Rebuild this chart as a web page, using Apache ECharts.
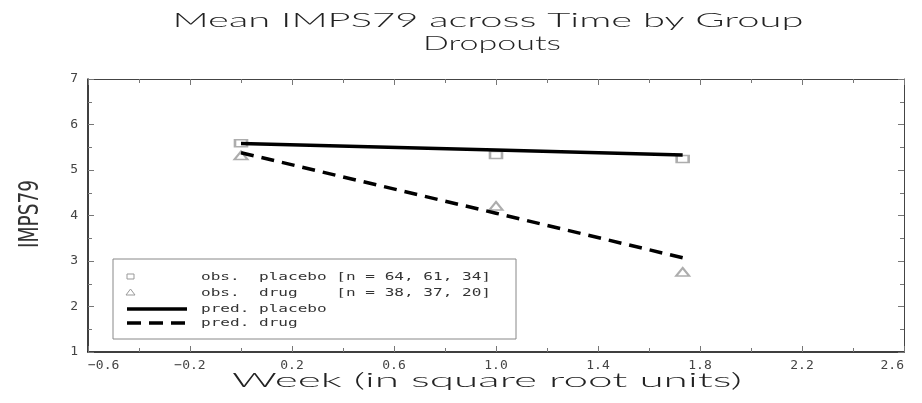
<!DOCTYPE html>
<html>
<head>
<meta charset="utf-8">
<script src="https://cdn.jsdelivr.net/npm/echarts@6/dist/echarts.min.js"></script>
<style>
  html, body { margin: 0; padding: 0; background: #fff; }
  #chart { width: 922px; height: 403px; }
</style>
</head>
<body>
<div id="chart"></div>
<script>
// sqrt(week) positions of the three assessments
const weeks = [0, 1, 1.732];

const obsPlacebo = [5.59, 5.33, 5.24];
const obsDrug = [5.32, 4.21, 2.76];
const predPlacebo = [5.58, 5.44, 5.33];
const predDrug = [5.38, 4.05, 3.07];

const xRange = [-0.6, 2.6];
const xStep = 0.4;
const yRange = [1, 7];
const yStep = 1;

const titleLines = ['Mean IMPS79 across Time by Group', 'Dropouts'];
const xName = 'Week (in square root units)';
const yName = 'IMPS79';
const legendLabels = [
  'obs.  placebo [n = 64, 61, 34]',
  'obs.  drug    [n = 38, 37, 20]',
  'pred. placebo',
  'pred. drug',
];

const MONO = '"DejaVu Sans Mono"';
const WIDE_FONT = '300 19px Lato, "DejaVu Sans", sans-serif';
const NARROW_FONT = '26px "Liberation Sans Narrow", "DejaVu Sans Condensed", "Liberation Sans", sans-serif';
const LEGEND_FONT = '11px ' + MONO;
const TICK_COLOR = '#777';

const pairs = (ys) => weeks.map((x, i) => [x, ys[i]]);
const fmtX = (v) => v.toFixed(1).replace('-', '\u2212');

// the original uses a very wide stroke font: stretch ours to the same run length
const measureCtx = document.createElement('canvas').getContext('2d');
const stretchTo = (text, font, width) => {
  measureCtx.font = font;
  return width / measureCtx.measureText(text).width;
};

const axisBase = {
  axisTick: { inside: true, length: 6, lineStyle: { color: TICK_COLOR } },
  minorTick: { show: true, splitNumber: 2, length: 4, lineStyle: { color: TICK_COLOR } },
  splitLine: { show: false },
};

const scaledText = (text, x, y, font, scaleX, extra) => ({
  type: 'text',
  x,
  y,
  scaleX,
  z: 100,
  style: {
    text,
    font,
    fill: '#222',
    textAlign: 'center',
    textVerticalAlign: 'middle',
    ...(extra || {}),
  },
});

const legendTop = 259;
const rowY = [277, 293, 309, 323];
const legendScale = stretchTo(legendLabels[0], LEGEND_FONT, 290);

const legendGraphic = [
  {
    type: 'rect',
    z: 90,
    shape: { x: 113, y: legendTop, width: 403, height: 80 },
    style: { fill: '#fff', stroke: '#888', lineWidth: 1 },
  },
  {
    type: 'rect',
    z: 100,
    shape: { x: 127, y: rowY[0] - 3, width: 7, height: 5 },
    style: { fill: 'none', stroke: '#999', lineWidth: 1 },
  },
  {
    type: 'polygon',
    z: 100,
    shape: { points: [[126, rowY[1] + 2], [135, rowY[1] + 2], [130.5, rowY[1] - 4]] },
    style: { fill: 'none', stroke: '#999', lineWidth: 1 },
  },
  {
    type: 'line',
    z: 100,
    shape: { x1: 127, y1: rowY[2], x2: 187, y2: rowY[2] },
    style: { stroke: '#000', lineWidth: 3.5 },
  },
  {
    type: 'line',
    z: 100,
    shape: { x1: 127, y1: rowY[3], x2: 186, y2: rowY[3] },
    style: { stroke: '#000', lineWidth: 3.5, lineDash: [14, 8] },
  },
  ...legendLabels.map((label, i) =>
    scaledText(label, 201, rowY[i], LEGEND_FONT, legendScale, {
      textAlign: 'left',
      fill: '#333',
    }),
  ),
];

const chart = echarts.init(document.getElementById('chart'));

chart.setOption({
  animation: false,
  backgroundColor: '#fff',
  grid: { left: 88, right: 18, top: 79, bottom: 51 },
  xAxis: [
    {
      ...axisBase,
      type: 'value',
      min: xRange[0],
      max: xRange[1],
      interval: xStep,
      axisLine: { onZero: false, lineStyle: { color: '#000', width: 1.5 } },
      axisLabel: {
        margin: 7,
        color: '#444',
        fontFamily: MONO,
        fontSize: 13,
        alignMinLabel: 'left',
        alignMaxLabel: 'right',
        formatter: fmtX,
      },
    },
    {
      ...axisBase,
      type: 'value',
      position: 'top',
      min: xRange[0],
      max: xRange[1],
      interval: xStep,
      axisLine: { onZero: false, lineStyle: { color: '#444', width: 1 } },
      axisLabel: { show: false },
    },
  ],
  yAxis: [
    {
      ...axisBase,
      type: 'value',
      min: yRange[0],
      max: yRange[1],
      interval: yStep,
      axisLine: { show: true, onZero: false, lineStyle: { color: '#000', width: 1.5 } },
      axisLabel: { margin: 10, color: '#444', fontFamily: MONO, fontSize: 13 },
    },
    {
      ...axisBase,
      type: 'value',
      position: 'right',
      min: yRange[0],
      max: yRange[1],
      interval: yStep,
      axisLine: { show: true, onZero: false, lineStyle: { color: '#444', width: 1 } },
      axisLabel: { show: false },
    },
  ],
  series: [
    {
      name: 'obs. placebo',
      type: 'scatter',
      data: pairs(obsPlacebo),
      symbol: 'emptyRect',
      symbolSize: [12, 7],
      itemStyle: { color: '#999', borderWidth: 1 },
      z: 1,
    },
    {
      name: 'obs. drug',
      type: 'scatter',
      data: pairs(obsDrug),
      symbol: 'emptyTriangle',
      symbolSize: [13, 8],
      itemStyle: { color: '#999', borderWidth: 1 },
      z: 1,
    },
    {
      name: 'pred. placebo',
      type: 'line',
      data: pairs(predPlacebo),
      showSymbol: false,
      lineStyle: { color: '#000', width: 3.5 },
      z: 3,
    },
    {
      name: 'pred. drug',
      type: 'line',
      data: pairs(predDrug),
      showSymbol: false,
      lineStyle: { color: '#000', width: 3.5, type: [13, 8] },
      z: 3,
    },
  ],
  graphic: [
    scaledText(titleLines[0], 488, 21, WIDE_FONT, stretchTo(titleLines[0], WIDE_FONT, 631)),
    scaledText(titleLines[1], 492, 44, WIDE_FONT, stretchTo(titleLines[1], WIDE_FONT, 138)),
    scaledText(xName, 487, 381, WIDE_FONT, stretchTo(xName, WIDE_FONT, 510)),
    {
      type: 'text',
      x: 31,
      y: 214,
      rotation: Math.PI / 2,
      scaleX: stretchTo(yName, NARROW_FONT, 68),
      z: 100,
      style: {
        text: yName,
        font: NARROW_FONT,
        fill: '#333',
        textAlign: 'center',
        textVerticalAlign: 'middle',
      },
    },
    ...legendGraphic,
  ],
});
</script>
</body>
</html>
